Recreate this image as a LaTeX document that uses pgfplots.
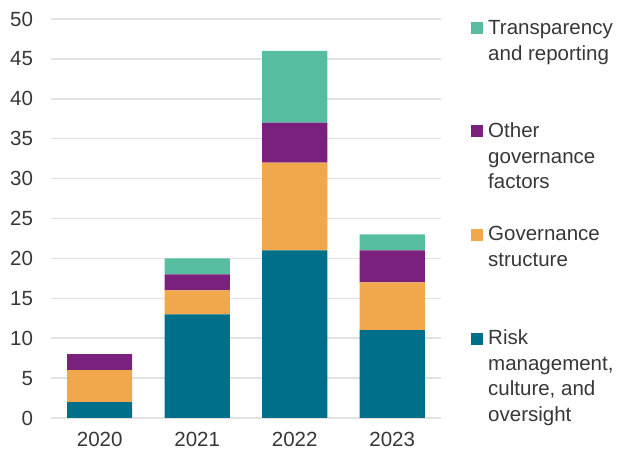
\documentclass[border=0pt]{standalone}
\usepackage{fontspec}
\setmainfont{Liberation Sans}
\usepackage{pgfplots}
\pgfplotsset{compat=1.18}
\definecolor{risk}{RGB}{0,111,138}
\definecolor{govstr}{RGB}{241,167,75}
\definecolor{other}{RGB}{122,32,125}
\definecolor{transp}{RGB}{87,189,161}
\definecolor{gridgray}{RGB}{226,226,226}
\definecolor{textgray}{RGB}{55,55,55}
\begin{document}
\fontsize{20.5}{25.5}\selectfont
\begin{tikzpicture}[x=1pt,y=1pt]
\path[use as bounding box] (0,0) rectangle (624,455);
\begin{axis}[at={(51pt,37pt)}, anchor=south west, scale only axis,
  width=390pt, height=399pt,
  ybar stacked, bar width=65pt,
  xmin=-0.5, xmax=3.5, ymin=0, ymax=50,
  ytick={0,5,...,50},
  xtick={0,1,2,3}, xticklabels={2020,2021,2022,2023},
  axis lines*=left,
  y axis line style={draw=none},
  x axis line style={draw=gridgray, line width=1.5pt},
  ymajorgrids, grid style={draw=gridgray, line width=1.5pt},
  xtick style={draw=none}, ytick style={draw=none},
  extra x ticks={-0.5,0.5,1.5,2.5,3.5}, extra x tick labels={},
  extra x tick style={grid=none, tick align=outside, major tick length=7pt,
    tick style={draw=gridgray, line width=1.2pt}},
  ticklabel style={font=\fontsize{20.5}{24}\selectfont, text=textgray},
  /pgf/number format/assume math mode=true,
  yticklabel style={anchor=east, xshift=-11pt},
  xticklabel style={yshift=-7pt},
  every axis plot/.append style={draw=none},
  clip=false]
\addplot[fill=risk] coordinates {(0,2) (1,13) (2,21) (3,11)};
\addplot[fill=govstr] coordinates {(0,4) (1,3) (2,11) (3,6)};
\addplot[fill=other] coordinates {(0,2) (1,2) (2,5) (3,4)};
\addplot[fill=transp] coordinates {(0,0) (1,2) (2,9) (3,2)};
\end{axis}
\begin{scope}[every node/.style={anchor=base west, align=left, inner sep=0pt, text=textgray}]
% node base = baseline of the last line
\fill[transp] (471,421) rectangle (483,433);
\node at (488,394.5) {Transparency\\and reporting};
\fill[other] (471,318) rectangle (483,330);
\node at (488,266) {Other\\governance\\factors};
\fill[govstr] (471,214) rectangle (483,226);
\node at (488,188.5) {Governance\\structure};
\fill[risk] (471,110) rectangle (483,122);
\node at (488,33.5) {Risk\\management,\\culture, and\\oversight};
\end{scope}
\end{tikzpicture}
\end{document}
